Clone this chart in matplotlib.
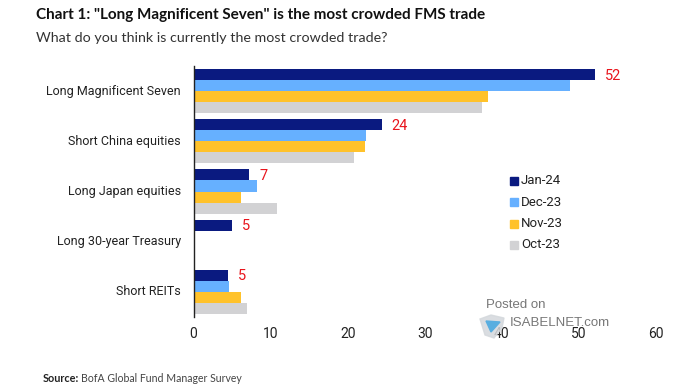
import matplotlib
matplotlib.use("Agg")
import matplotlib.pyplot as plt
import numpy as np
from matplotlib.patches import Polygon
from matplotlib.transforms import ScaledTranslation

W, H = 700, 390

categories = ["Long Magnificent Seven", "Short China equities", "Long Japan equities",
              "Long 30-year Treasury", "Short REITs"]
series_names = ["Jan-24", "Dec-23", "Nov-23", "Oct-23"]
jan_24 = [52.1, 24.4, 7.2, 5.0, 4.5]
dec_23 = [48.8, 22.4, 8.2, 0, 4.6]
nov_23 = [38.2, 22.2, 6.2, 0, 6.2]
oct_23 = [37.4, 20.8, 10.8, 0, 6.9]
bar_labels = ["52", "24", "7", "5", "5"]
xticks = [0, 10, 20, 30, 40, 50, 60]

NAVY = "#0a1a80"
BLUE = "#66b0ff"
GOLD = "#ffc22b"
GREY = "#d2d2d4"
colors = [NAVY, BLUE, GOLD, GREY]
BODY = "Roboto"

fig = plt.figure(figsize=(W / 100, H / 100), dpi=100)
# axes box in pixels: x=0 at 193.5, x=60 at 656, y from 66 to 317
ax = fig.add_axes([193.5 / W, 1 - 317 / H, 462.6 / W, 251 / H])

y = np.arange(len(categories))
bar_h = 0.22
values = [jan_24, dec_23, nov_23, oct_23]
for i, vals in enumerate(values):
    ax.barh(y + (i - 1.5) * bar_h, vals, height=bar_h, color=colors[i], linewidth=0)

for i, lab in enumerate(bar_labels):
    ax.text(jan_24[i] + 1.3, y[i] - 1.5 * bar_h + 0.02, lab, color="#e8141c", va="center", ha="left",
            fontsize=10.5, family=BODY)

ax.set_xlim(0, 60)
ax.set_ylim(4.5, -0.5)
ax.set_xticks(xticks)
ax.set_yticks(y)
ax.set_yticklabels(categories)
ax.tick_params(axis="both", length=0, labelcolor="#222222")
ax.tick_params(axis="x", pad=7, labelsize=10)
ax.tick_params(axis="y", pad=9, labelsize=9)
up = ScaledTranslation(0, 1.5 / 100, fig.dpi_scale_trans)
for lab in ax.get_yticklabels():
    lab.set_family(BODY)
    lab.set_transform(lab.get_transform() + up)
for lab in ax.get_xticklabels():
    lab.set_family(BODY)
for side in ["top", "right", "bottom"]:
    ax.spines[side].set_visible(False)
ax.spines["left"].set_color("#222222")
ax.spines["left"].set_linewidth(1.0)

# legend, hand placed
legend_y = [181, 202, 224, 245]
for name, c, ly in zip(series_names, colors, legend_y):
    fig.patches.append(plt.Rectangle((510 / W, 1 - (ly + 4) / H), 8 / W, 8 / H, color=c,
                                     transform=fig.transFigure))
    fig.text(521 / W, 1 - ly / H, name, fontsize=9.5, va="center", color="#222222",
             family=BODY)

fig.text(36 / W, 1 - 15 / H, 'Chart 1: "Long Magnificent Seven" is the most crowded FMS trade',
         fontsize=11, fontweight="bold", va="center", color="#111111", family="Lato")
fig.text(36 / W, 1 - 38 / H, "What do you think is currently the most crowded trade?",
         fontsize=10.3, va="center", color="#333333", family="Lato")
fig.text(43 / W, 1 - 379 / H, "Source:", fontsize=7.8, fontweight="bold", va="center",
         color="#222222", family="Lato")
fig.text(81 / W, 1 - 379 / H, "BofA Global Fund Manager Survey", fontsize=7.6, va="center",
         color="#444444", family="Lato")

# watermark
fig.text(486 / W, 1 - 305 / H, "Posted on", fontsize=9.5, va="center", color="#777777",
         family="Liberation Sans")
fig.text(510 / W, 1 - 323 / H, "ISABELNET.com", fontsize=9.5, va="center", color="#777777",
         family="Liberation Sans")
overlay = fig.add_axes([0, 0, 1, 1], facecolor="none")
overlay.set_xlim(0, W)
overlay.set_ylim(H, 0)
overlay.axis("off")
overlay.add_patch(Polygon([[480, 319], [491, 315], [504, 318], [502, 328], [494, 338], [485, 335]],
                          color="#d4d8dc", alpha=0.85))
overlay.add_patch(Polygon([[486, 321], [500, 322], [491, 332]], color="#58aee0"))

fig.savefig("out.png", dpi=100)
